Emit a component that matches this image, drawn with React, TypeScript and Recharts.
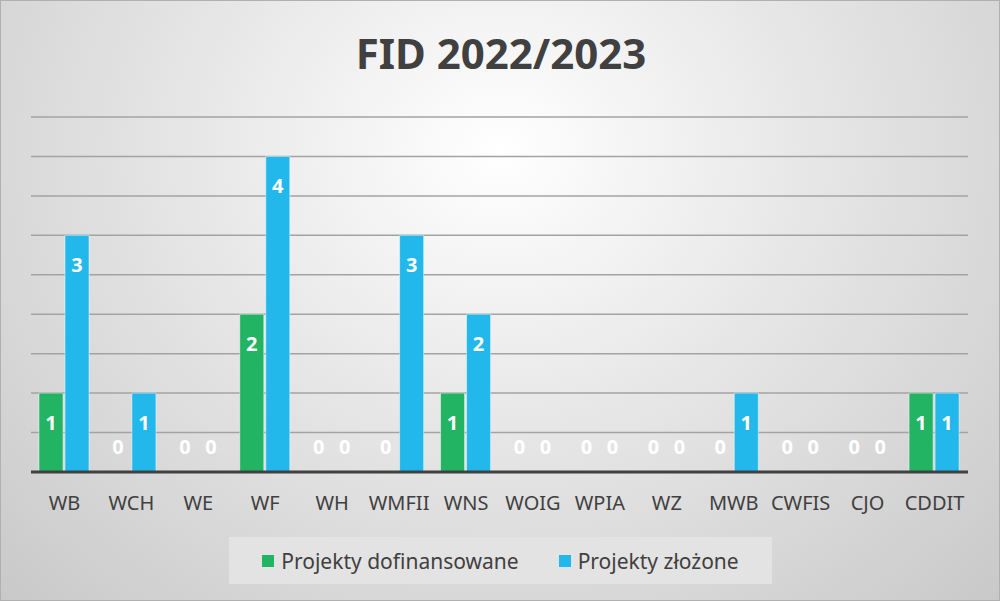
import { Bar, BarChart, CartesianGrid, Rectangle, XAxis, YAxis } from "recharts";

const categories = [
  "WB", "WCH", "WE", "WF", "WH", "WMFII", "WNS",
  "WOIG", "WPIA", "WZ", "MWB", "CWFIS", "CJO", "CDDIT",
];
const funded = [1, 0, 0, 2, 0, 0, 1, 0, 0, 0, 0, 0, 0, 1];
const submitted = [3, 1, 0, 4, 0, 3, 2, 0, 0, 0, 1, 0, 0, 1];
const yTicks = [0, 0.5, 1, 1.5, 2, 2.5, 3, 3.5, 4, 4.5];

const GREEN = "#22b462";
const BLUE = "#22b8ec";
const TEXT = "#404040";
const FONT = "'Noto Sans', Roboto, sans-serif";

const data = categories.map((name, i) => ({
  name,
  funded: funded[i],
  submitted: submitted[i],
}));

// bar + its value label; zero bars still get a "0" just above the axis
function BarWithLabel(props: any) {
  const { x, y, width, height, value, fill } = props;
  const v = Array.isArray(value) ? value[1] - value[0] : value;
  const cx = x + width / 2;
  const cy = v === 0 ? y + height - 26 : y + 29;
  return (
    <g>
      {height > 0 && (
        <Rectangle
          x={x}
          y={y}
          width={width}
          height={height}
          fill={fill}
          stroke="rgba(255,255,255,0.45)"
        />
      )}
      <text
        x={cx}
        y={cy}
        fill="#ffffff"
        fontSize={20}
        fontWeight={700}
        fontFamily={FONT}
        textAnchor="middle"
        dominantBaseline="central"
      >
        {v}
      </text>
    </g>
  );
}

export default function App() {
  return (
    <div
      style={{
        position: "relative",
        width: 1000,
        height: 601,
        boxSizing: "border-box",
        border: "1px solid #b0b0b0",
        background: "radial-gradient(ellipse at 50% 25%, #ffffff 0%, #e6e6e6 45%, #c9c9c9 100%)",
        fontFamily: FONT,
      }}
    >
      <style>{`body{margin:0}`}</style>
      <div
        style={{
          position: "absolute",
          top: 24,
          left: 0,
          width: 1000,
          textAlign: "center",
          fontSize: 42,
          fontWeight: 700,
          color: TEXT,
          lineHeight: "56px",
        }}
      >
        FID 2022/2023
      </div>
      <div style={{ position: "absolute", top: 0, left: 0 }}>
        <BarChart
          width={998}
          height={599}
          data={data}
          margin={{ top: 116, right: 31, left: 30, bottom: 0 }}
          barSize={24}
          barGap={2}
        >
          <CartesianGrid
            vertical={false}
            stroke="#a3a3a3"
            strokeWidth={1.5}
          />
          <YAxis hide domain={[0, 4.5]} ticks={yTicks} />
          <XAxis
            dataKey="name"
            height={128}
            tickLine={false}
            axisLine={{ stroke: TEXT, strokeWidth: 3 }}
            tick={{ fill: TEXT, fontSize: 20, fontFamily: FONT }}
            dy={16}
            interval={0}
          />
          <Bar
            dataKey="funded"
            fill={GREEN}
            shape={BarWithLabel}
            isAnimationActive={false}
          />
          <Bar
            dataKey="submitted"
            fill={BLUE}
            shape={BarWithLabel}
            isAnimationActive={false}
          />
        </BarChart>
      </div>
      <div
        style={{
          position: "absolute",
          top: 536,
          left: 228,
          width: 543,
          height: 47,
          background: "#e3e3e3",
          display: "flex",
          alignItems: "center",
          justifyContent: "center",
          gap: 40,
          fontSize: 21,
          color: TEXT,
        }}
      >
        {[
          { label: "Projekty dofinansowane", color: GREEN },
          { label: "Projekty złożone", color: BLUE },
        ].map((item) => (
          <div key={item.label} style={{ display: "flex", alignItems: "center", gap: 7 }}>
            <span style={{ width: 12, height: 12, background: item.color, display: "inline-block" }} />
            <span>{item.label}</span>
          </div>
        ))}
      </div>
    </div>
  );
}
